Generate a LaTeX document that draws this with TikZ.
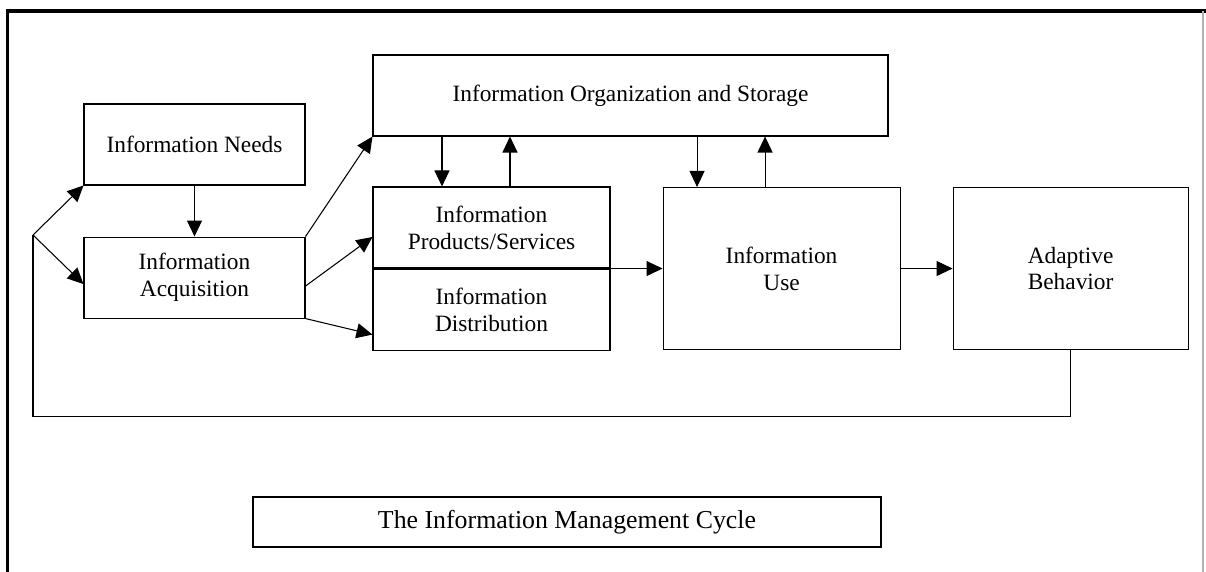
\documentclass[tikz,border=0pt]{standalone}
\usepackage{fontspec}
\setmainfont{Liberation Serif}
\usepackage{tikz}
\usetikzlibrary{arrows.meta, positioning}

\begin{document}
\begin{tikzpicture}[
  >={Triangle[length=0.32cm, width=0.3cm]},
  line width=0.6pt,
  box/.style={rectangle, draw, minimum width=4.42cm, minimum height=1.62cm, align=center, inner sep=2pt,
    font=\fontsize{13.3}{15.3}\selectfont},
  tallbox/.style={box, minimum width=4.74cm, minimum height=3.24cm},
  titlebox/.style={rectangle, draw, minimum width=12.56cm, minimum height=1cm, font=\fontsize{14.7}{17}\selectfont}
]
  \useasboundingbox (0,0) rectangle (24.12,-11.44);
  % frame
  \draw[line width=2.2pt] (0.15,-11.44) -- (0.15,-0.22) -- (24.12,-0.22);
  \draw[gray!60] (24.06,-0.22) -- (24.06,-11.44);

  \node[box] (needs) at (3.89,-2.89) {Information Needs};
  \node[box, below=1.02cm of needs] (acq) {Information\\Acquisition};
  \node[box, minimum width=10.3cm] (org) at (12.61,-1.91) {Information Organization and Storage};
  \node[box, minimum width=4.74cm] (prod) at (9.83,-4.55) {Information\\Products/Services};
  \node[box, minimum width=4.74cm, below=0cm of prod] (dist) {Information\\Distribution};
  \node[tallbox, right=1.04cm of prod.south east] (use) {Information\\Use};
  \node[tallbox, minimum width=4.7cm, right=1.04cm of use] (adapt) {Adaptive\\Behavior};
  \node[titlebox] (title) at (11.34,-10.44) {The Information Management Cycle};

  \coordinate (fork) at (0.66,-4.7);

  \draw[->] (needs) -- (acq);
  \draw[->] (acq.north east) -- (org.south west);
  \draw[->] ([yshift=-0.17cm]acq.east) -- ([yshift=-0.19cm]prod.west);
  \draw[->] (acq.south east) -- ([yshift=-0.5cm]dist.west);
  \draw[->] ([xshift=-0.99cm]org.south -| prod.north) -- ([xshift=-0.99cm]prod.north);
  \draw[->] ([xshift=0.37cm]prod.north) -- ([xshift=0.37cm]org.south -| prod.north);
  \draw[->] ([xshift=-1.69cm]org.south -| use.north) -- ([xshift=-1.69cm]use.north);
  \draw[->] ([xshift=-0.33cm]use.north) -- ([xshift=-0.33cm]org.south -| use.north);
  \draw[->] (prod.south east) -- (use.west);
  \draw[->] (use) -- (adapt);
  % feedback loop
  \draw (adapt.south) -- ++(0,-1.32) -| (fork);
  \draw[->] (fork) -- (needs.south west);
  \draw[->] (fork) -- ([yshift=-0.13cm]acq.west);
\end{tikzpicture}
\end{document}
